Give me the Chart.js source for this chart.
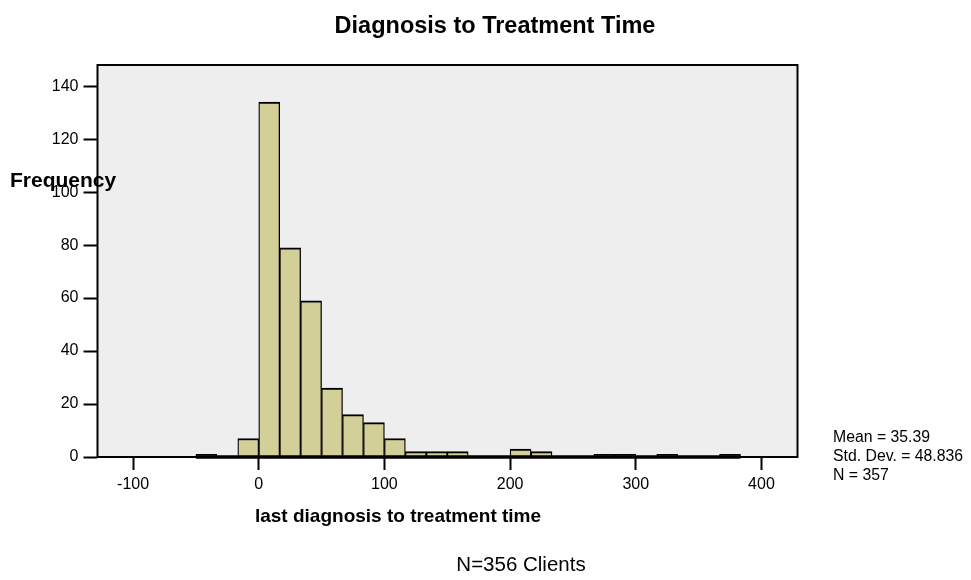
<!DOCTYPE html>
<html>
<head>
<meta charset="utf-8">
<title>Diagnosis to Treatment Time</title>
<script src="https://cdn.jsdelivr.net/npm/chart.js@4/dist/chart.umd.min.js"></script>
<style>
  body { margin: 0; background: #fff; }
  canvas { display: block; }
</style>
</head>
<body>
<canvas id="myChart" width="971" height="580"></canvas>
<script>
// histogram bins (lower edge, days) and counts
const binStarts = [-50, -33.33, -16.67, 0, 16.67, 33.33, 50, 66.67, 83.33, 100, 116.67, 133.33, 150,
  166.67, 183.33, 200, 216.67, 233.33, 250, 266.67, 283.33, 300, 316.67, 333.33, 350, 366.67];
const counts = [1, 0, 7, 134, 79, 59, 26, 16, 13, 7, 2, 2, 2, 0, 0, 3, 2, 0, 0, 1, 1, 0, 1, 0, 0, 1];
const binWidth = 16.67;

const xTicks = [-100, 0, 100, 200, 300, 400];
const yTicks = [0, 20, 40, 60, 80, 100, 120, 140];

const titleText = 'Diagnosis to Treatment Time';
const xTitle = 'last diagnosis to treatment time';
const yTitle = 'Frequency';
const statsLines = ['Mean = 35.39', 'Std. Dev. = 48.836', 'N = 357'];
const footText = 'N=356 Clients';

const FONT = '"Liberation Sans", Arial, sans-serif';

const points = binStarts.map((s, i) => ({ x: s + binWidth / 2, y: counts[i] }));

// grey plot background + frame, thick base line under the binned range
const plotFrame = {
  id: 'plotFrame',
  beforeDatasetsDraw(chart) {
    const a = chart.chartArea, ctx = chart.ctx;
    ctx.save();
    ctx.fillStyle = '#eeeeee';
    ctx.fillRect(a.left, a.top, a.right - a.left, a.bottom - a.top);
    ctx.restore();
  },
  afterDatasetsDraw(chart) {
    const a = chart.chartArea, ctx = chart.ctx, xs = chart.scales.x;
    ctx.save();
    ctx.strokeStyle = '#000';
    ctx.lineWidth = 2;
    ctx.strokeRect(a.left, a.top, a.right - a.left, a.bottom - a.top);
    ctx.lineWidth = 3.5;
    ctx.beginPath();
    ctx.moveTo(xs.getPixelForValue(binStarts[0]), a.bottom);
    ctx.lineTo(xs.getPixelForValue(binStarts[binStarts.length - 1] + binWidth), a.bottom);
    ctx.stroke();
    ctx.restore();
  }
};

// the spss-style texts around the plot
const labels = {
  id: 'labels',
  afterDraw(chart) {
    const ctx = chart.ctx;
    ctx.save();
    ctx.fillStyle = '#000';
    ctx.textBaseline = 'alphabetic';

    ctx.font = 'bold 23.5px ' + FONT;
    ctx.textAlign = 'center';
    ctx.fillText(titleText, 495, 33);

    ctx.font = 'bold 21px ' + FONT;
    ctx.textAlign = 'left';
    ctx.fillText(yTitle, 10, 187);

    ctx.font = 'bold 19px ' + FONT;
    ctx.textAlign = 'center';
    ctx.fillText(xTitle, 398, 522);

    ctx.font = '20.5px ' + FONT;
    ctx.fillText(footText, 521, 571);

    ctx.font = '15.8px ' + FONT;
    ctx.textAlign = 'left';
    statsLines.forEach((t, i) => ctx.fillText(t, 833, 442 + i * 19));
    ctx.restore();
  }
};

const ctx = document.getElementById('myChart').getContext('2d');
const myChart = new Chart(ctx, {
  type: 'bar',
  data: {
    datasets: [{
      label: 'Frequency',
      data: points,
      // single-count bars come out almost all outline in the original
      backgroundColor: c => (c.raw && c.raw.y <= 1 ? '#4d4c3a' : '#d3cf99'),
      borderColor: '#000',
      borderWidth: { top: 2, left: 1.3, right: 1.3, bottom: 0 },
      borderSkipped: false,
      barPercentage: 1,
      categoryPercentage: 1
    }]
  },
  options: {
    responsive: false,
    animation: false,
    layout: { padding: { top: 65, right: 173.5, bottom: 0, left: 0 } },
    plugins: {
      legend: { display: false },
      tooltip: { enabled: false }
    },
    scales: {
      x: {
        type: 'linear',
        offset: false,
        min: -128.3,
        max: 428.7,
        afterBuildTicks: s => { s.ticks = xTicks.map(v => ({ value: v })); },
        afterFit: s => { s.height = 123; },
        grid: { offset: false, drawOnChartArea: false, tickLength: 13, tickColor: '#000', tickWidth: 2 },
        border: { display: true, color: '#000', width: 2 },
        ticks: { color: '#000', font: { size: 16, family: FONT }, padding: 5, maxRotation: 0 }
      },
      y: {
        min: 0,
        max: 148,
        afterBuildTicks: s => { s.ticks = yTicks.map(v => ({ value: v })); },
        afterFit: s => { s.width = 97.5; },
        grid: { drawOnChartArea: false, tickLength: 14, tickColor: '#000', tickWidth: 2 },
        border: { display: true, color: '#000', width: 2 },
        ticks: { color: '#000', font: { size: 16, family: FONT }, padding: 5 }
      }
    }
  },
  plugins: [plotFrame, labels]
});
</script>
</body>
</html>
